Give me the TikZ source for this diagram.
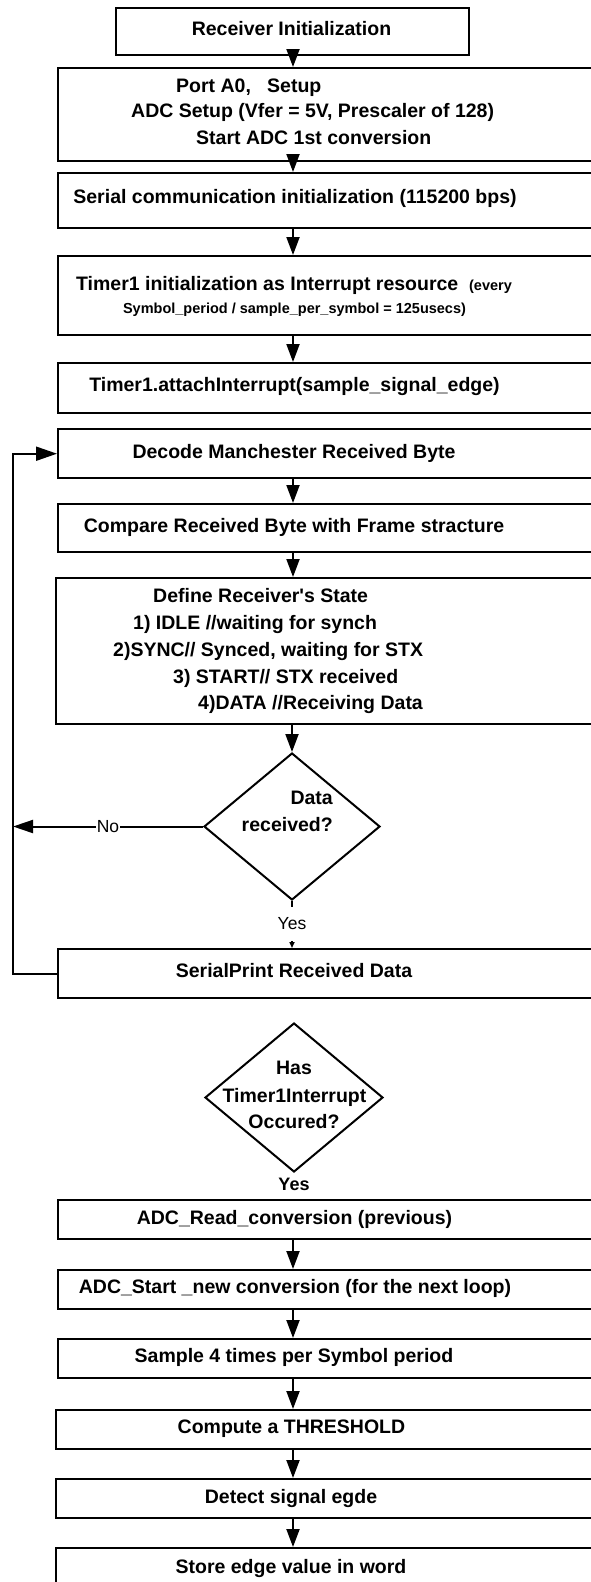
\documentclass[tikz,border=0pt]{standalone}
\usepackage{fontspec}
\setmainfont{Liberation Sans}
\usetikzlibrary{arrows.meta,shapes.geometric}
\begin{document}
\begin{tikzpicture}[x=1pt,y=-1pt,
  box/.style={draw, line width=2.4pt, inner sep=0pt, anchor=north west},
  dia/.style={draw, diamond, line width=2pt, inner sep=0pt, fill=white},
  txt/.style={font=\bfseries\fontsize{19.5}{23}\selectfont, anchor=base, inner sep=0pt},
  txtw/.style={txt, anchor=base west},
  txte/.style={txt, anchor=base east},
  stxt/.style={font=\bfseries\fontsize{14.5}{17}\selectfont, anchor=base, inner sep=0pt},
  ytxt/.style={font=\bfseries\fontsize{18}{21}\selectfont, anchor=base, inner sep=0pt},
  lbl/.style={font=\fontsize{17.5}{20}\selectfont, fill=white, inner sep=1pt},
  arr/.style={line width=2pt, -{Triangle[width=13pt,length=18pt]}},
  conn/.style={line width=2pt}
]
\useasboundingbox (0,0) rectangle (591,1582);
\clip (0,0) rectangle (591,1582);
\fill[white] (0,0) rectangle (591,1582);

\coordinate (ax) at (293,0);
\coordinate (lc) at (13,0);

% boxes
\node[box, minimum width=353, minimum height=47] (b1) at (115,7) {};
\node[box, minimum width=563, minimum height=93] (b2) at (57,67) {};
\node[box, minimum width=563, minimum height=55] (b3) at (57,172) {};
\node[box, minimum width=563, minimum height=79] (b4) at (57,255) {};
\node[box, minimum width=563, minimum height=50] (b5) at (57,362) {};
\node[box, minimum width=563, minimum height=49] (b6) at (57,428) {};
\node[box, minimum width=563, minimum height=48] (b7) at (57,503) {};
\node[box, minimum width=565, minimum height=146] (b8) at (55,577) {};
\node[box, minimum width=563, minimum height=49] (b9) at (57,948) {};
\node[box, minimum width=563, minimum height=39] (b10) at (57,1199) {};
\node[box, minimum width=563, minimum height=39] (b11) at (57,1269) {};
\node[box, minimum width=563, minimum height=39] (b12) at (57,1338) {};
\node[box, minimum width=565, minimum height=39] (b13) at (55,1409) {};
\node[box, minimum width=565, minimum height=39] (b14) at (55,1478) {};
\node[box, minimum width=565, minimum height=60] (b15) at (55,1547) {};

% diamonds
\node[dia, minimum width=176, minimum height=147] (d1) at (292,826.5) {};
\node[dia, minimum width=178, minimum height=149] (d2) at (294,1097.5) {};

% texts
\node[txt] (t1) at (291.5,35) {Receiver Initialization};
\node[txtw] (t2a) at (176,92) {Port A0,\ \ \ Setup};
\node[txtw] (t2b) at (131,117) {ADC Setup (Vfer = 5V, Prescaler of 128)};
\node[txtw] (t2c) at (196,144) {Start ADC 1st conversion};
\node[txt] (t3) at (295,203) {Serial communication initialization (115200 bps)};
\node[txt] (t4a) at (294,290) {Timer1 initialization as Interrupt resource\ \ {\fontsize{14.5}{17}\selectfont(every}};
\node[stxt] (t4b) at (294.5,313) {Symbol\_period / sample\_per\_symbol = 125usecs)};
\node[txt] (t5) at (294.5,391) {Timer1.attachInterrupt(sample\_signal\_edge)};
\node[txt] (t6) at (294,458) {Decode Manchester Received Byte};
\node[txt] (t7) at (294,532) {Compare Received Byte with Frame stracture};
\node[txtw] (t8a) at (153,602) {Define Receiver\textquotesingle s State};
\node[txtw] (t8b) at (133,629) {1) IDLE //waiting for synch};
\node[txtw] (t8c) at (113,656) {2)SYNC// Synced, waiting for STX};
\node[txtw] (t8d) at (173,683) {3) START// STX received};
\node[txtw] (t8e) at (198,709) {4)DATA //Receiving Data};
\node[txte] (td1a) at (333,804) {Data};
\node[txte] (td1b) at (333,831) {received?};
\node[txt] (t9) at (294,977) {SerialPrint Received Data};
\node[txt] (td2a) at (294,1074) {Has};
\node[txt] (td2b) at (294.5,1102) {Timer1Interrupt};
\node[txt] (td2c) at (294,1128) {Occured?};
\node[ytxt] (y2) at (294,1190) {Yes};
\node[txt] (t10) at (294.5,1224) {ADC\_Read\_conversion (previous)};
\node[txt] (t11) at (295,1293) {ADC\_Start \_new conversion (for the next loop)};
\node[txt] (t12) at (294,1362) {Sample 4 times per Symbol period};
\node[txt] (t13) at (291.5,1433) {Compute a THRESHOLD};
\node[txt] (t14) at (291,1503) {Detect signal egde};
\node[txt] (t15) at (291,1573) {Store edge value in word};

% connectors
\draw[arr] (b1.south -| ax) -- (b2.north -| ax);
\draw[arr] (b2.south -| ax) -- (b3.north -| ax);
\draw[arr] (b3.south -| ax) -- (b4.north -| ax);
\draw[arr] (b4.south -| ax) -- (b5.north -| ax);
\draw[arr] (b6.south -| ax) -- (b7.north -| ax);
\draw[arr] (b7.south -| ax) -- (b8.north -| ax);
\draw[arr] (b8.south -| d1) -- (d1.north);
\draw[line width=1.5pt, -{Triangle[width=5pt,length=6pt]}] (d1.south) -- node[lbl, pos=0.49, minimum height=34pt] (y1) {Yes} (b9.north -| d1.south);
\draw[arr, -{Triangle[width=13pt,length=20pt]}] (d1.west) -- node[lbl, pos=0.5] (no) {No} (d1.west -| lc);
\draw[conn, -{Triangle[width=14pt,length=21pt]}] (b9.west) -- (b9.west -| lc) |- (b6.west);
\draw[arr] (b10.south -| ax) -- (b11.north -| ax);
\draw[arr] (b11.south -| ax) -- (b12.north -| ax);
\draw[arr] (b12.south -| ax) -- (b13.north -| ax);
\draw[arr] (b13.south -| ax) -- (b14.north -| ax);
\draw[arr] (b14.south -| ax) -- (b15.north -| ax);
\end{tikzpicture}
\end{document}
